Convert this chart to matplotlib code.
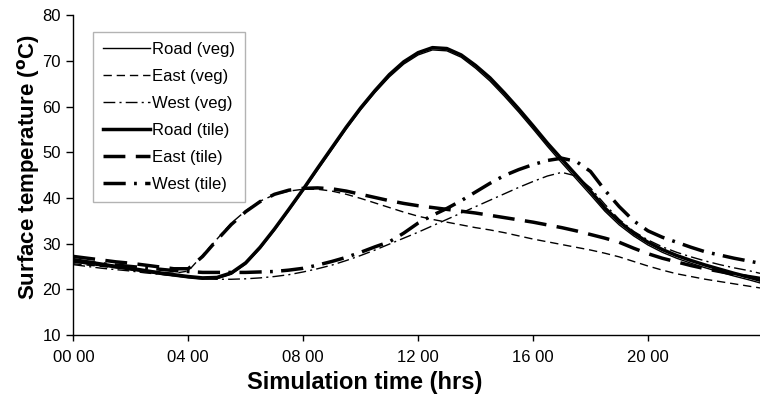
import matplotlib
matplotlib.use("Agg")
import matplotlib.pyplot as plt

plt.rcParams['font.family'] = ['Liberation Sans', 'DejaVu Sans']

# time in hours (half-hour readings)
hours = [0, 0.5, 1, 1.5, 2, 2.5, 3, 3.5, 4, 4.5, 5, 5.5, 6, 6.5, 7, 7.5,
         8, 8.5, 9, 9.5, 10, 10.5, 11, 11.5, 12, 12.5, 13, 13.5, 14, 14.5,
         15, 15.5, 16, 16.5, 17, 17.5, 18, 18.5, 19, 19.5, 20, 20.5, 21,
         21.5, 22, 22.5, 23, 23.5, 23.9]

road_veg = [26.0, 25.5, 25.1, 24.7, 24.2, 23.8, 23.3, 22.9, 22.5, 22.2, 22.3, 23.3,
            25.5, 28.9, 32.9, 37.2, 41.6, 46.1, 50.6, 55.1, 59.3, 63.1, 66.5, 69.3,
            71.3, 72.4, 72.2, 70.8, 68.4, 65.6, 62.3, 58.8, 55.1, 51.3, 47.7, 44.2,
            40.7, 37.1, 34.1, 31.7, 29.7, 28.1, 26.8, 25.7, 24.7, 23.8, 22.9, 22.1, 21.4]
east_veg = [25.6, 25.3, 25.0, 24.7, 24.4, 24.1, 23.8, 23.5, 24.0, 27.5, 31.0, 34.5,
            37.2, 39.3, 40.7, 41.5, 41.9, 41.9, 41.5, 40.8, 39.9, 38.9, 37.9, 36.9,
            36.0, 35.3, 34.7, 34.1, 33.5, 33.0, 32.4, 31.7, 31.0, 30.4, 29.8, 29.2,
            28.6, 27.9, 27.1, 26.1, 25.1, 24.2, 23.4, 22.8, 22.2, 21.7, 21.2, 20.7, 20.3]
west_veg = [25.4, 25.0, 24.6, 24.3, 24.0, 23.6, 23.3, 23.0, 22.7, 22.4, 22.2, 22.2,
            22.3, 22.5, 22.8, 23.2, 23.8, 24.5, 25.3, 26.3, 27.4, 28.6, 29.9, 31.2,
            32.5, 33.9, 35.3, 36.7, 38.1, 39.5, 40.9, 42.3, 43.6, 44.8, 45.6, 44.8,
            42.2, 38.6, 35.3, 32.7, 30.8, 29.3, 28.1, 27.1, 26.2, 25.4, 24.7, 24.1, 23.5]
road_tile = [26.5, 26.0, 25.5, 25.0, 24.6, 24.1, 23.6, 23.2, 22.8, 22.5, 22.6, 23.6,
             25.8, 29.2, 33.2, 37.5, 41.9, 46.5, 51.0, 55.5, 59.7, 63.5, 67.0, 69.8,
             71.8, 72.9, 72.7, 71.3, 69.0, 66.3, 63.0, 59.5, 55.8, 52.0, 48.5, 45.0,
             41.5, 37.8, 34.8, 32.3, 30.3, 28.7, 27.4, 26.3, 25.3, 24.4, 23.5, 22.7, 22.0]
east_tile = [27.2, 26.8, 26.4, 26.0, 25.7, 25.3, 24.9, 24.5, 24.5, 27.2, 30.8, 34.2,
             37.0, 39.2, 40.8, 41.7, 42.1, 42.2, 42.0, 41.5, 40.8, 40.1, 39.4, 38.8,
             38.3, 37.9, 37.5, 37.1, 36.7, 36.2, 35.7, 35.2, 34.7, 34.1, 33.5, 32.8,
             32.0, 31.2, 30.3, 29.0, 27.8, 26.8, 26.0, 25.2, 24.5, 23.9, 23.3, 22.8, 22.4]
west_tile = [26.2, 25.9, 25.6, 25.3, 25.0, 24.7, 24.4, 24.1, 23.9, 23.7, 23.7, 23.7,
             23.7, 23.8, 23.9, 24.2, 24.6, 25.3, 26.1, 27.0, 28.1, 29.3, 30.4, 32.3,
             34.5, 36.2, 37.7, 39.4, 41.3, 43.2, 44.9, 46.2, 47.3, 48.2, 48.7, 48.0,
             45.8, 41.7, 38.1, 35.0, 32.8, 31.4, 30.3, 29.2, 28.2, 27.5, 26.8, 26.2, 25.7]

xticks = [0, 4, 8, 12, 16, 20]
xtick_labels = ["00 00", "04 00", "08 00", "12 00", "16 00", "20 00"]

fig = plt.figure(figsize=(7.6, 4.0), dpi=100)
ax = fig.add_axes([0.0965, 0.1625, 0.9035, 0.7995])

ax.plot(hours, road_veg, color="black", lw=1.0, label="Road (veg)")
ax.plot(hours, east_veg, color="black", lw=1.0, dashes=(6, 3.5), label="East (veg)")
ax.plot(hours, west_veg, color="black", lw=1.0, dashes=(8.5, 3, 1.5, 3), label="West (veg)")
ax.plot(hours, road_tile, color="black", lw=2.5, label="Road (tile)")
ax.plot(hours, east_tile, color="black", lw=2.5, dashes=(6.3, 3), label="East (tile)")
ax.plot(hours, west_tile, color="black", lw=2.5, dashes=(6.4, 2.4, 0.8, 2.4), label="West (tile)")

ax.set_xlim(0, 23.9)
ax.set_ylim(10, 80)
ax.set_yticks(range(10, 81, 10))
ax.set_xticks(xticks)
ax.set_xticklabels(xtick_labels)
ax.tick_params(axis="both", direction="out", length=4, width=1, labelsize=12, colors="black")
ax.tick_params(axis="y", length=5, pad=4)
ax.tick_params(axis="x", pad=7)

ax.spines["top"].set_visible(False)
ax.spines["right"].set_visible(False)
ax.spines["left"].set_linewidth(1)
ax.spines["bottom"].set_linewidth(1)

ax.set_xlabel("Simulation time (hrs)", fontsize=17, fontweight="bold", va="center")
ax.xaxis.set_label_coords(0.425, -0.15)
ax.set_ylabel(r"Surface temperature ($\mathbf{^{o}}$C)", fontsize=16, fontweight="bold", va="center")
ax.yaxis.set_label_coords(-0.066, 0.525)

leg = ax.legend(loc="upper left", bbox_to_anchor=(0.029, 0.948), borderaxespad=0,
                fontsize=12, handlelength=2.8, handletextpad=0.1, labelspacing=0.72,
                fancybox=False, frameon=True, borderpad=0.6)
leg.get_frame().set_edgecolor("#a0a0a0")
leg.get_frame().set_linewidth(1)

fig.savefig("out.png", dpi=100)
